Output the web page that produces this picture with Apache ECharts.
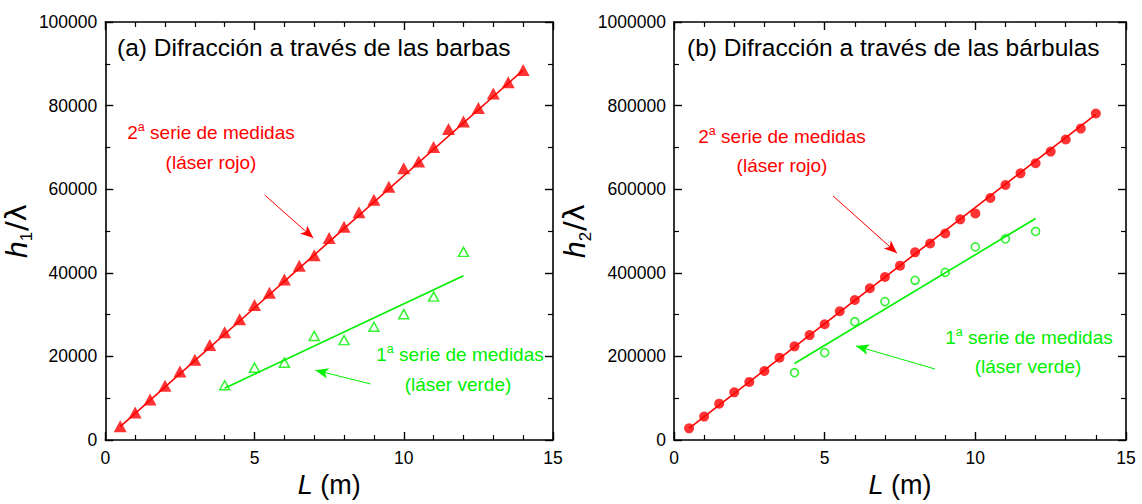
<!DOCTYPE html>
<html>
<head>
<meta charset="utf-8">
<script src="https://cdn.jsdelivr.net/npm/echarts@6/dist/echarts.min.js"></script>
<style>
html,body{margin:0;padding:0;background:#fff;}
#c{width:1142px;height:504px;}
</style>
</head>
<body>
<div id="c"></div>
<script>
// ---------- DATA ----------
var redL = [0.5,1,1.5,2,2.5,3,3.5,4,4.5,5,5.5,6,6.5,7,7.5,8,8.5,9,9.5,10,10.5,11,11.5,12,12.5,13,13.5,14];
var redA = [3300,6600,9700,13000,16400,19200,22700,25800,28900,32300,35200,38400,41700,44200,48300,51000,54500,57500,60600,65000,66600,70100,74400,76200,79400,82900,85600,88500];
var redB = [28000,56000,87000,114000,139000,165000,197000,224000,251000,277000,308000,335000,363000,390000,417000,449000,470000,494000,528000,542000,579000,610000,638000,662000,690000,719000,745000,781000];
var greenL = [4,5,6,7,8,9,10,11,12];
var greenA = [13100,17300,18500,24900,23900,27100,30100,34300,45000];
var greenB = [161000,209000,283000,331000,382000,401000,462000,481000,499000];
var fitRedA = [[0.5,3200],[14,88500]];
var fitGreenA = [[4,12400],[12,39300]];
var fitRedB = [[0.5,28000],[14,779000]];
var fitGreenB = [[4,183000],[12,530000]];
var arrowRedA = [[5.34,58600],[6.97,48300]];
var arrowGreenA = [[8.89,13400],[7.04,16700]];
var arrowRedB = [[5.28,583700],[7.40,447000]];
var arrowGreenB = [[8.66,169900],[6.04,224900]];
var xTicks = {min:0, max:15, interval:5};
var yTicksA = {min:0, max:100000, interval:20000};
var yTicksB = {min:0, max:1000000, interval:200000};

// ---------- STYLE ----------
var FONT = '"Liberation Sans", Arial, sans-serif';
var RED = '#ff0000', GREEN = '#00f000';
var grids = [
  {left:101, top:22, width:452, height:418},
  {left:674, top:22, width:452, height:418}
];
function pair(a,b){ return a.map(function(v,i){ return [v,b[i]]; }); }

function xAxisCfg(gi, pos, showLabel){
  return {
    type:'value', gridIndex:gi, position:pos, min:xTicks.min, max:xTicks.max, interval:xTicks.interval,
    axisLine:{show:true, onZero:false, lineStyle:{color:'#000', width:1.6}},
    axisTick:{show:true, inside:true, length:8, lineStyle:{color:'#000', width:1.4}},
    minorTick:{show:true, splitNumber:5, length:5, lineStyle:{color:'#000', width:1.2}},
    splitLine:{show:false}, minorSplitLine:{show:false},
    axisLabel:{show:showLabel, fontSize:17.5, color:'#000', fontFamily:FONT, margin:9},
    name: showLabel ? '{i|L} (m)' : '', nameLocation:'middle', nameGap:30,
    nameTextStyle:{fontSize:27, color:'#000', fontFamily:FONT, rich:{i:{fontStyle:'italic', fontSize:27, fontFamily:FONT, color:'#000'}}}
  };
}
function yAxisCfg(gi, pos, showLabel, ticks, sub){
  return {
    type:'value', gridIndex:gi, position:pos, min:ticks.min, max:ticks.max, interval:ticks.interval,
    axisLine:{show:true, onZero:false, lineStyle:{color:'#000', width:1.6}},
    axisTick:{show:true, inside:true, length:8, lineStyle:{color:'#000', width:1.4}},
    minorTick:{show:true, splitNumber:2, length:5, lineStyle:{color:'#000', width:1.2}},
    splitLine:{show:false}, minorSplitLine:{show:false},
    axisLabel:{show:showLabel, fontSize:17.5, color:'#000', fontFamily:FONT, margin:8, formatter:function(v){return String(v);}},
    name: showLabel ? '{i|h}{s|'+sub+'}{n|/λ}' : '', nameLocation:'middle', nameGap:62,
    nameTextStyle:{fontSize:28, color:'#000', fontFamily:FONT, rich:{
      i:{fontStyle:'italic', fontSize:30, fontFamily:FONT, color:'#000', verticalAlign:'top'},
      s:{fontSize:17, fontFamily:FONT, color:'#000', verticalAlign:'top', padding:[17,1,0,0]},
      n:{fontSize:29, fontFamily:'"DejaVu Sans", ' + FONT, color:'#000', verticalAlign:'top'}
    }}
  };
}
function arrow(coords, color){
  return {
    silent:true, animation:false, symbol:['none','arrow'], symbolSize:[8,13],
    label:{show:false}, lineStyle:{color:color, width:1, type:'solid'},
    emphasis:{disabled:true},
    data:[[{coord:coords[0]},{coord:coords[1]}]]
  };
}
function fitLine(data, xi, yi, color, arr){
  return {type:'line', xAxisIndex:xi, yAxisIndex:yi, data:data, showSymbol:false, symbol:'none',
    lineStyle:{color:color, width:1.6}, silent:true, animation:false, z:2, markLine:arrow(arr, color)};
}

var supRich = function(color){
  return {
    n:{fontSize:19, fontFamily:FONT, color:color, verticalAlign:'bottom'},
    sup:{fontSize:12.5, fontFamily:FONT, color:color, verticalAlign:'bottom', padding:[0,0,9,0]}
  };
};
function centred(cx, cy, str, color, rich){
  return {type:'text', x:cx, y:cy, style:{text:str, fill:color, fontSize:19, fontFamily:FONT, align:'center', verticalAlign:'middle', rich:rich}, silent:true};
}

var chart = echarts.init(document.getElementById('c'), null, {renderer:'svg'});
var option = {
  animation:false,
  backgroundColor:'#fff',
  grid: grids,
  xAxis:[ xAxisCfg(0,'bottom',true), xAxisCfg(0,'top',false), xAxisCfg(1,'bottom',true), xAxisCfg(1,'top',false) ],
  yAxis:[ yAxisCfg(0,'left',true,yTicksA,'1'), yAxisCfg(0,'right',false,yTicksA,'1'), yAxisCfg(1,'left',true,yTicksB,'2'), yAxisCfg(1,'right',false,yTicksB,'2') ],
  series:[
    fitLine(fitRedA, 0, 0, RED, arrowRedA),
    fitLine(fitGreenA, 0, 0, GREEN, arrowGreenA),
    {type:'scatter', xAxisIndex:0, yAxisIndex:0, data:pair(redL, redA), symbol:'triangle', symbolSize:[13,12],
     itemStyle:{color:RED}, z:3, silent:true},
    {type:'scatter', xAxisIndex:0, yAxisIndex:0, data:pair(greenL, greenA), symbol:'triangle', symbolSize:[10,9],
     itemStyle:{color:'rgba(255,255,255,0)', borderColor:GREEN, borderWidth:1.5}, z:3, silent:true},
    fitLine(fitRedB, 2, 2, RED, arrowRedB),
    fitLine(fitGreenB, 2, 2, GREEN, arrowGreenB),
    {type:'scatter', xAxisIndex:2, yAxisIndex:2, data:pair(redL, redB), symbol:'circle', symbolSize:10,
     itemStyle:{color:RED}, z:3, silent:true},
    {type:'scatter', xAxisIndex:2, yAxisIndex:2, data:pair(greenL, greenB), symbol:'circle', symbolSize:8,
     itemStyle:{color:'rgba(255,255,255,0)', borderColor:GREEN, borderWidth:1.6}, z:3, silent:true}
  ],
  graphic:[
    {type:'text', left:117, top:35, style:{text:'(a) Difracción a través de las barbas', fill:'#000', fontSize:24.5, fontFamily:FONT}, silent:true},
    {type:'text', left:687, top:35, style:{text:'(b) Difracción a través de las bárbulas', fill:'#000', fontSize:24.5, fontFamily:FONT}, silent:true},
    centred(211,131,'{n|2}{sup|a}{n| serie de medidas}', RED, supRich(RED)),
    centred(211,162,'(láser rojo)', RED),
    centred(460,353,'{n|1}{sup|a}{n| serie de medidas}', GREEN, supRich(GREEN)),
    centred(458,384,'(láser verde)', GREEN),
    centred(782,135,'{n|2}{sup|a}{n| serie de medidas}', RED, supRich(RED)),
    centred(782,165,'(láser rojo)', RED),
    centred(1029,336,'{n|1}{sup|a}{n| serie de medidas}', GREEN, supRich(GREEN)),
    centred(1028,366,'(láser verde)', GREEN)
  ]
};
chart.setOption(option);
</script>
</body>
</html>
